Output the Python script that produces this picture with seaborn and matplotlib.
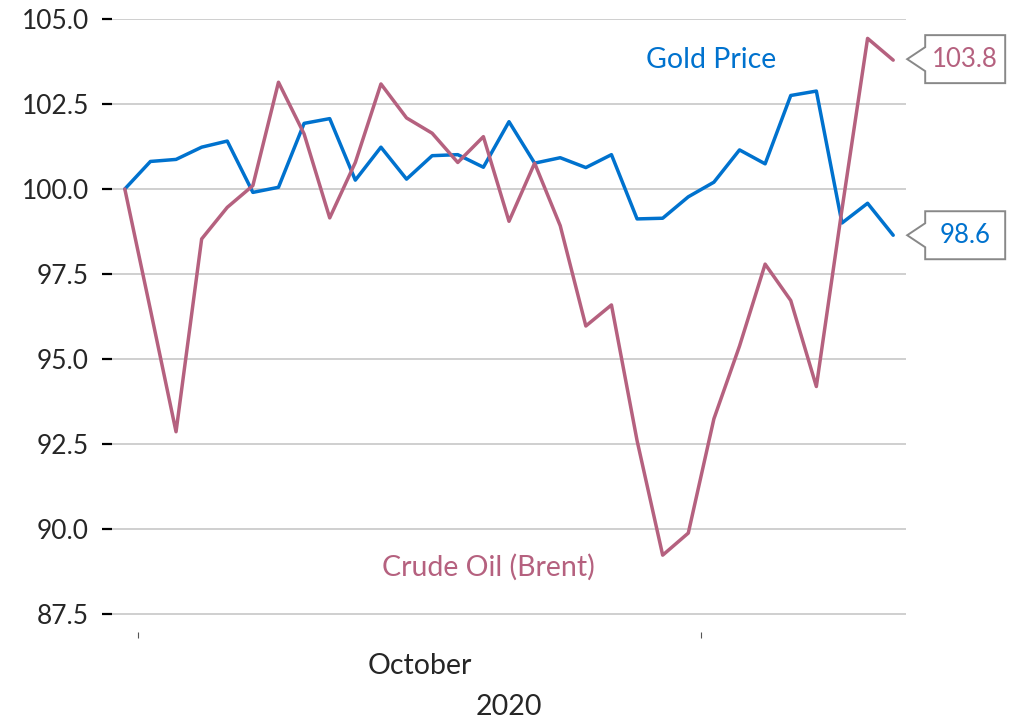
#!/usr/bin/env python3

import matplotlib
matplotlib.use("Agg")
import matplotlib.pyplot as plt
import matplotlib.transforms as mtransforms
from matplotlib.patches import Polygon
import seaborn as sns
from pandas import DataFrame

# daily index values (Sep 30 = 100), business days Sep 30 .. Nov 2020
gold_price = [100.0, 100.81, 100.87, 101.23, 101.41, 99.9, 100.05, 101.93, 102.07, 100.26,
              101.23, 100.29, 100.98, 101.01, 100.64, 101.98, 100.76, 100.92, 100.63, 101.01,
              99.12, 99.14, 99.77, 100.2, 101.15, 100.74, 102.75, 102.88, 99.0, 99.58, 98.64]
crude_oil = [100.0, 96.45, 92.86, 98.53, 99.46, 100.1, 103.14, 101.62, 99.15, 100.78,
             103.09, 102.09, 101.64, 100.78, 101.54, 99.05, 100.76, 98.92, 95.97, 96.59,
             92.6, 89.23, 89.88, 93.24, 95.38, 97.79, 96.72, 94.19, 99.4, 104.43, 103.79]
month_bounds = [0.5, 22.5]
month_label = "October"
year_label = "2020"
y_ticks = [87.5, 90.0, 92.5, 95.0, 97.5, 100.0, 102.5, 105.0]

GOLD = "#0072CE"
OIL = "#B5617F"


def main():
    sns.set_style("white")
    plt.rcParams['font.family'] = ['Lato', 'DejaVu Sans']

    df = DataFrame({'day': range(len(gold_price)),
                    'gold': gold_price,
                    'oil': crude_oil})

    fig = plt.figure(figsize=(10.16, 7.2), dpi=100)
    ax = fig.add_axes([112 / 1016, 1 - 632 / 720, (906 - 112) / 1016, (632 - 19) / 720])

    sns.lineplot(data=df, x='day', y='gold', color=GOLD, linewidth=2.5, ax=ax)
    sns.lineplot(data=df, x='day', y='oil', color=OIL, linewidth=2.5, ax=ax)

    ax.set_xlim(-0.5, 30.5)
    ax.set_ylim(86.97, 105.0)
    ax.set_yticks(y_ticks)
    ax.set_yticklabels([f"{t:.1f}" for t in y_ticks])
    ax.yaxis.grid(True, color='#cccccc', linewidth=1.3)
    ax.set_axisbelow(True)
    for s in ax.spines.values():
        s.set_visible(False)

    ax.tick_params(axis='y', left=True, length=7.5, width=1.6, color='black',
                   labelsize=19, pad=9)
    ax.set_xticks([11.5])
    ax.set_xticklabels([month_label])
    ax.set_xticks(month_bounds, minor=True)
    ax.tick_params(axis='x', which='major', bottom=True, length=0, labelsize=20.5, pad=15)
    ax.tick_params(axis='x', which='minor', bottom=True, length=4, width=0.8, color='#555555')
    ax.set_xlabel(year_label, fontsize=20.5, labelpad=11)
    ax.set_ylabel('')

    ax.text(22.9, 103.79, "Gold Price", color=GOLD, fontsize=20.5, ha='center', va='center')
    ax.text(14.2, 88.88, "Crude Oil (Brent)", color=OIL, fontsize=20.5, ha='center', va='center')

    # end-value callouts
    last = len(gold_price) - 1
    for val, col in [(crude_oil[-1], OIL), (gold_price[-1], GOLD)]:
        px, py = ax.transData.transform((last, val))
        if col == OIL:
            py += 1
        tr = mtransforms.Affine2D().translate(px, py)
        verts = [(14, 0), (32, 12), (32, 24), (112, 24), (112, -24), (32, -24), (32, -12)]
        ax.add_patch(Polygon(verts, closed=True, transform=tr, facecolor='white',
                             edgecolor='#888888', linewidth=1.4, clip_on=False))
        ax.text(72, 0, f"{val:.1f}", color=col, fontsize=18.5, ha='center', va='center',
                transform=tr, clip_on=False)

    plt.savefig('out.png', dpi=100)


if __name__ == "__main__":
    main()
